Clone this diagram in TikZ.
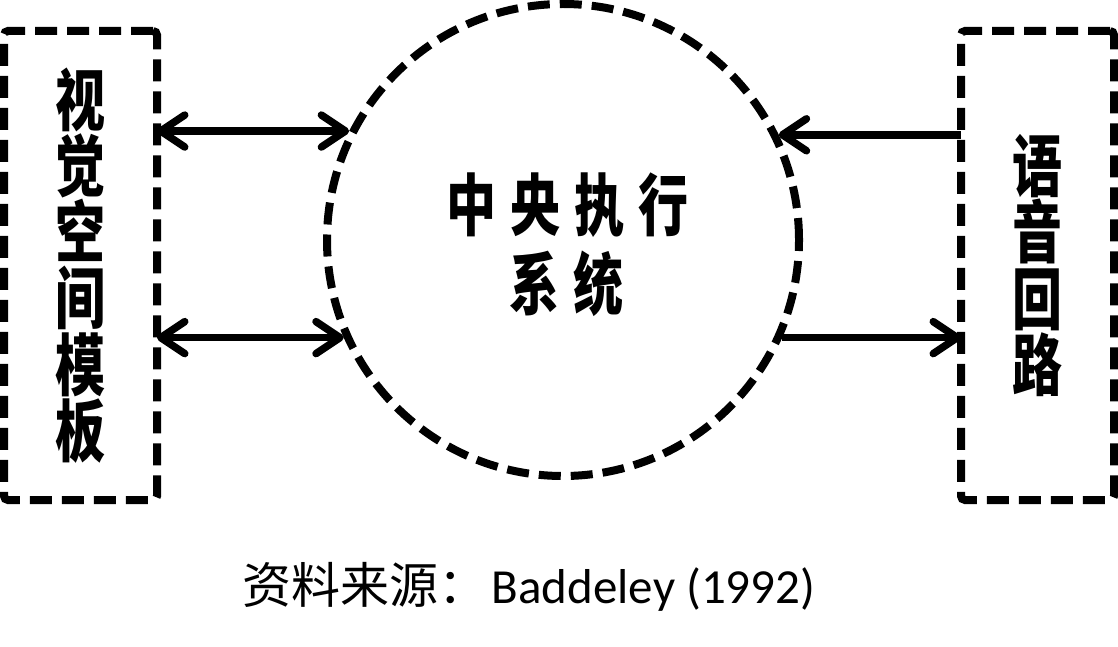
\documentclass[tikz,border=0pt]{standalone}
\usepackage{fontspec}
\usetikzlibrary{arrows.meta}
\newfontfamily\cjk{Noto Sans CJK SC}
\newfontfamily\lat{Carlito}
\newcommand\vstack[1]{\scalebox{1}[1.35]{\vbox{\baselineskip=49pt\lineskiplimit=-100pt\lineskip=0pt #1}}}
\newcommand\hgap{\hspace{14pt}}
\begin{document}
\begin{tikzpicture}[x=1pt,y=-1pt,
  >={Straight Barb[length=24pt,width=32pt,round]},
  dbox/.style={draw, line width=8pt, dash pattern=on 22pt off 10pt, rounded corners=4pt,
    minimum width=153pt, minimum height=469pt, outer sep=0pt, inner sep=0pt},
  dcirc/.style={circle, draw, line width=8pt, dash pattern=on 22pt off 10pt,
    minimum size=472pt, inner sep=0pt},
  boldtxt/.style={font=\cjk\bfseries\fontsize{50}{49}\selectfont, inner sep=0pt},
  conn/.style={line width=7.5pt},
  captxt/.style={font=\fontsize{49}{50}\selectfont, inner sep=0pt, anchor=base}]
\useasboundingbox (0,0) rectangle (1118,647);
\node[dbox] (L) at (80.5,265.5) {};
\node[dbox] (R) at (1037.5,265.5) {};
\node[dcirc] (C) at (563,240) {};
\node[boldtxt] (Lt) at (L.center) {\vstack{\hbox{视}\hbox{觉}\hbox{空}\hbox{间}\hbox{模}\hbox{板}}};
\node[boldtxt] (Rt) at (R.center) {\vstack{\hbox{语}\hbox{音}\hbox{回}\hbox{路}}};
\node[boldtxt] (C1) at (567,205) {\scalebox{1}[1.35]{中\hgap 央\hgap 执\hgap 行}};
\node[boldtxt] (C2) at (566,284) {\scalebox{1}[1.35]{系\hgap 统}};
\draw[conn,<->] (L.east |- C.153.3) -- (C.153.3);
\draw[conn,<->] (L.east |- C.204) -- (C.204);
\draw[conn,<-] (C.26.7) -- (C.26.7 -| R.west);
\draw[conn,->] (C.-24) -- (C.-24 -| R.west);
\node[captxt] (cap) at (529,603) {{\cjk 资料来源：}\hspace{4pt}{\lat Baddeley (1992)}};
\end{tikzpicture}
\end{document}
